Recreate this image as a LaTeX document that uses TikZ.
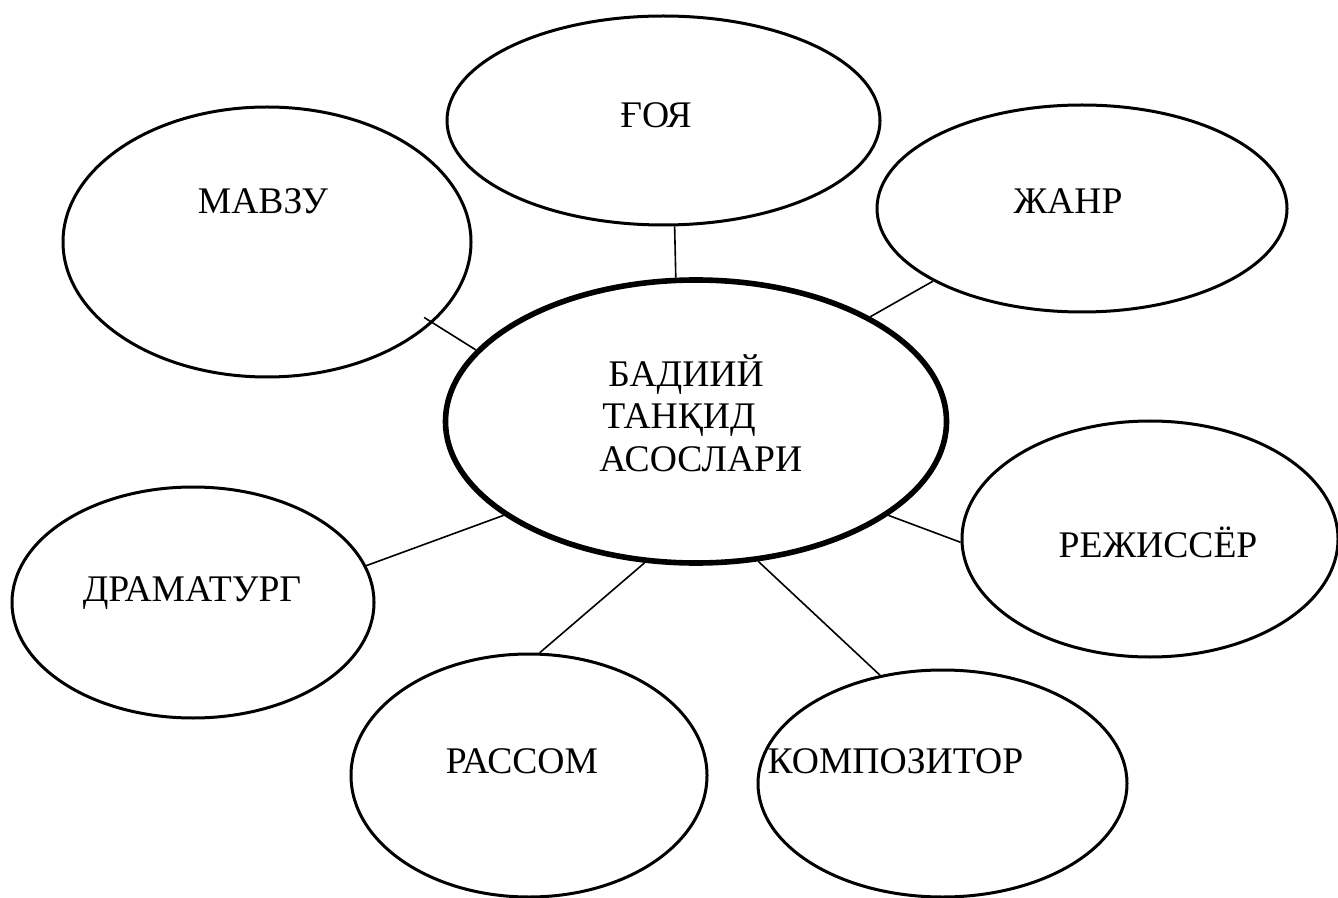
\documentclass[tikz,border=0pt]{standalone}
\usepackage{fontspec}
\setmainfont{Liberation Serif}
\newfontfamily\timesfam{Liberation Serif}
\usetikzlibrary{shapes.geometric}

\begin{document}
\begin{tikzpicture}[x=0.5pt,y=-0.5pt,
	bubble/.style={draw,ellipse,line width=1.5pt,inner sep=0pt},
	word/.style={anchor=base,inner sep=0pt,font=\timesfam\fontsize{18.8}{21.5}\selectfont},
	link/.style={line width=0.8pt}]
		\useasboundingbox (0,0) rectangle (1338,898);
		
		\node[bubble,line width=2.8pt,minimum width=250.5pt,minimum height=141.5pt] (markaz) at (696,421.5) {};
		\node[word,anchor=base west,align=left] (markazmatn) at (599,472) {\hspace*{4.5pt}БАДИИЙ\\\hspace*{1.5pt}ТАНҚИД\\АСОСЛАРИ};
		
		\node[bubble,minimum width=216.5pt,minimum height=104.5pt] (goya) at (663.5,120.5) {};
		\node[word] (goyamatn) at (656,128) {ҒОЯ};
		\node[bubble,minimum width=204pt,minimum height=135pt] (mavzu) at (267,242) {};
		\node[word] (mavzumatn) at (263,214) {МАВЗУ};
		\node[bubble,minimum width=205pt,minimum height=103.5pt] (zhanr) at (1082,208.5) {};
		\node[word] (zhanrmatn) at (1068,214) {ЖАНР};
		\node[bubble,minimum width=188pt,minimum height=118pt] (rezhissyor) at (1150,539) {};
		\node[word] (rezhissyormatn) at (1158,557) {РЕЖИССЁР};
		\node[bubble,minimum width=184.5pt,minimum height=113.5pt] (kompozitor) at (942.5,783.5) {};
		\node[word] (kompozitormatn) at (895.5,773) {КОМПОЗИТОР};
		\node[bubble,minimum width=178pt,minimum height=121.5pt] (rassom) at (529,775.5) {};
		\node[word] (rassommatn) at (522,773) {РАССОМ};
		\node[bubble,minimum width=181pt,minimum height=115.5pt] (dramaturg) at (193,602.5) {};
		\node[word] (dramaturgmatn) at (192,601) {ДРАМАТУРГ};
		
		\draw[link] (markaz.98) -- (goya.-84);
		\draw[link,shorten >=-5pt] (markaz.162) -- (mavzu.-26);
		\draw[link] (markaz.31) -- (zhanr.206);
		\draw[link] (markaz.206) -- (dramaturg.12);
		\draw[link] (markaz.-26) -- (rezhissyor.181);
		\draw[link] (markaz.250) -- (rassom.85);
		\draw[link] (markaz.-66) -- (kompozitor.120);
\end{tikzpicture}
\end{document}
